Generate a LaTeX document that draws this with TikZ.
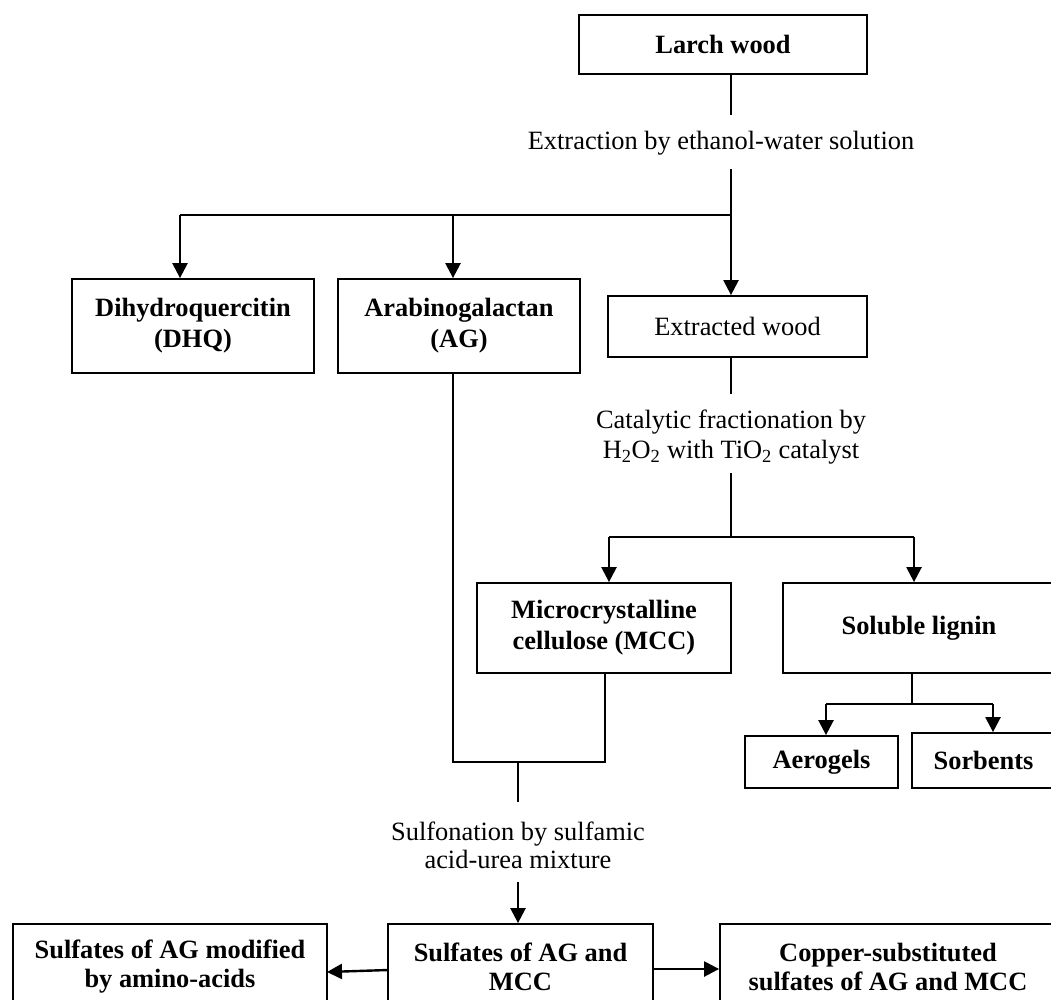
\documentclass[tikz,border=0pt]{standalone}
\usepackage{fontspec}
\setmainfont{Liberation Serif}
\usetikzlibrary{arrows.meta}
\tikzset{
  box/.style={draw, line width=1.8pt, rectangle, inner sep=0pt, align=center, font=\fontsize{26.4}{31}\selectfont\bfseries},
  plainbox/.style={box, font=\fontsize{26.4}{31}\selectfont},
  lab/.style={inner sep=0pt, align=center, font=\fontsize{26.4}{30}\selectfont},
  ln/.style={line width=1.6pt},
  arr/.style={line width=2.4pt, -{Triangle[length=15pt,width=15pt]}},
}
\begin{document}
\begin{tikzpicture}[x=1pt,y=-1pt]
\useasboundingbox (0,0) rectangle (1051,999);
\clip (0,0) rectangle (1051,999);
% boxes
\node[box, minimum width=288pt, minimum height=59pt] (larch) at (723,44.5) {Larch wood};
\node[box, minimum width=242pt, minimum height=94pt] (dhq) at (193,326) {Dihydroquercitin\\(DHQ)};
\node[box, minimum width=242pt, minimum height=94pt] (ag) at (459,326) {Arabinogalactan\\(AG)};
\node[plainbox, minimum width=259pt, minimum height=61pt] (ext) at (737.5,326.5) {Extracted wood};
\node[box, minimum width=254pt, minimum height=90pt] (mcc) at (604,628) {Microcrystalline\\cellulose (MCC)};
\node[box, minimum width=272pt, minimum height=90pt] (sl) at (919,628) {Soluble lignin};
\node[box, minimum width=153pt, minimum height=52pt] (aero) at (821.5,762) {Aerogels};
\node[box, minimum width=143pt, minimum height=55pt] (sorb) at (983.5,760.5) {Sorbents};
\node[box, minimum width=314pt, minimum height=85pt, font=\fontsize{26.4}{29}\selectfont\bfseries] (amino) at (170,966.5) {Sulfates of AG modified\\by amino-acids};
\node[box, minimum width=265pt, minimum height=85pt, font=\fontsize{26.4}{29}\selectfont\bfseries] (sulf) at (520.5,966.5) {Sulfates of AG and\\MCC};
\node[box, minimum width=336pt, minimum height=85pt, font=\fontsize{26.4}{29}\selectfont\bfseries] (cu) at (888,966.5) {Copper-substituted\\sulfates of AG and MCC};
% labels
\node[lab] (lab1) at (721,143) {Extraction by ethanol-water solution};
\node[lab] (lab2) at (731,437) {Catalytic fractionation by\\H\textsubscript{2}O\textsubscript{2} with TiO\textsubscript{2} catalyst};
\node[lab, font=\fontsize{26.4}{28}\selectfont] (lab3) at (518,845) {Sulfonation by sulfamic\\acid-urea mixture};
% coordinates
\coordinate (a1) at (731,115);
\coordinate (a2) at (731,169);
\coordinate (br1) at (731,215);
\coordinate (bdhq) at (180,215);
\coordinate (bag) at (453,215);
\coordinate (c1) at (731,394);
\coordinate (c2) at (731,473);
\coordinate (br2) at (731,537);
\coordinate (bmcc) at (609,537);
\coordinate (bsl) at (914,537);
\coordinate (d1) at (912,704);
\coordinate (baero) at (826,704);
\coordinate (bsorb) at (993,704);
\coordinate (e1) at (453,762);
\coordinate (e2) at (605,762);
\coordinate (e3) at (518,762);
\coordinate (e4) at (518,802);
\coordinate (e5) at (518,882);
\coordinate (f1) at (388,970);
\coordinate (f2) at (327,972);
\coordinate (g1) at (653,969);
% connectors
\draw[ln] (larch.south -| a1) -- (a1);
\draw[arr] (a2) -- (ext.north -| a2);
\draw[ln] (br1) -- (bdhq);
\draw[arr] (bdhq) -- (dhq.north -| bdhq);
\draw[arr] (bag) -- (ag.north -| bag);
\draw[ln] (ext.south -| c1) -- (c1);
\draw[ln] (c2) -- (br2);
\draw[ln] (bmcc) -- (bsl);
\draw[arr] (bmcc) -- (mcc.north -| bmcc);
\draw[arr] (bsl) -- (sl.north -| bsl);
\draw[ln] (sl.south -| d1) -- (d1);
\draw[ln] (baero) -- (bsorb);
\draw[arr] (baero) -- (aero.north -| baero);
\draw[arr] (bsorb) -- (sorb.north -| bsorb);
\draw[ln] (ag.south -| e1) -- (e1) -- (e2) -- (mcc.south -| e2);
\draw[ln] (e3) -- (e4);
\draw[arr] (e5) -- (sulf.north -| e5);
\draw[arr] (f1) -- (f2);
\draw[arr] (g1) -- (cu.west |- g1);
\end{tikzpicture}
\end{document}
